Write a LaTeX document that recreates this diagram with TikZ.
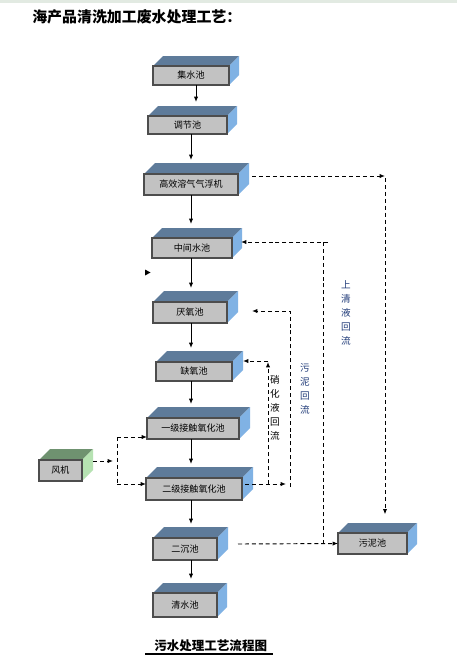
\documentclass[tikz,border=0pt]{standalone}
\usepackage{fontspec}
\newfontfamily\cjk{Noto Sans CJK SC}
\usetikzlibrary{calc,arrows.meta}
\definecolor{topc}{HTML}{5E7B9A}
\definecolor{sidec}{HTML}{80B2E4}
\definecolor{frontc}{HTML}{C2C2C2}
\definecolor{edgec}{HTML}{4D4D4D}
\definecolor{gtop}{HTML}{6F9270}
\definecolor{gside}{HTML}{B6E2B2}
\definecolor{lblue}{HTML}{1F3A78}
\definecolor{bandc}{HTML}{E2EAE2}
\newcommand\tbox[9]{%
 \fill[#8] (#2,#3) -- ({#2+#6},{#3-#6}) -- ({#4+#6},{#3-#6}) -- (#4,#3) -- cycle;
 \fill[#9] (#4,#3) -- ({#4+#6},{#3-#6}) -- ({#4+#6},{#5-#6}) -- (#4,#5) -- cycle;
 \node[frontbox, minimum width={(#4-#2)*0.75pt}, minimum height={(#5-#3)*0.75pt}, anchor=north west] (#1) at (#2,#3) {#7};
}
\tikzset{
 frontbox/.style={draw=edgec, fill=frontc, line width=0.9pt, inner sep=0pt, outer sep=0pt, font=\cjk\fontsize{6.8}{8}\selectfont},
 arr/.style={line width=0.75pt, -{Latex[length=4pt,width=3.2pt]}},
 dsh/.style={line width=0.7pt, dash pattern=on 3pt off 2.2pt},
 vlab/.style={font=\cjk\fontsize{7.2}{10.5}\selectfont, align=center, inner sep=0pt, text=lblue},
 ttl/.style={font=\cjk\bfseries\fontsize{11.2}{13}\selectfont, inner sep=0pt, anchor=west},
 sv/.style={shorten >=10.5pt}
}
\begin{document}
\begin{tikzpicture}[x=0.75pt,y=-0.75pt]
\useasboundingbox (0,0) rectangle (457,658);
\fill[white] (0,0) rectangle (457,658);
\fill[bandc] (0,0) rectangle (457,2.5);
% titles
\node[ttl] (t1) at (32,17) {海产品清洗加工废水处理工艺：};
\node[ttl, font=\cjk\bfseries\fontsize{9.4}{11}\selectfont] (t2) at (154,646) {污水处理工艺流程图};
\draw[line width=0.8pt] (145,654) -- (273,654);
% boxes
\tbox{jsc}{153}{66}{229}{85}{10}{集水池}{topc}{sidec}
\tbox{tjc}{148}{116}{227}{134}{10}{调节池}{topc}{sidec}
\tbox{gx}{144}{174}{238}{195}{11}{高效溶气气浮机}{topc}{sidec}
\tbox{zj}{152}{238}{232}{258}{10}{中间水池}{topc}{sidec}
\tbox{yy}{153}{302}{227}{323}{11}{厌氧池}{topc}{sidec}
\tbox{qy}{156}{362}{232}{381}{11}{缺氧池}{topc}{sidec}
\tbox{y1}{147}{418}{239}{439}{11}{一级接触氧化池}{topc}{sidec}
\tbox{y2}{146}{478}{242}{500}{11}{二级接触氧化池}{topc}{sidec}
\tbox{fj}{39}{460}{82}{481}{11}{风机}{gtop}{gside}
\tbox{ec}{153}{538}{217}{560}{11}{二沉池}{topc}{sidec}
\tbox{qs}{153}{593}{217}{617}{10}{清水池}{topc}{sidec}
\tbox{wn}{338}{533}{407}{554}{10}{污泥池}{topc}{sidec}
% main solid arrows
\coordinate (X1) at (196,0);
\coordinate (X) at (191,0);
\draw[arr,sv] (jsc.south -| X1) -- (tjc.north -| X1);
\draw[arr,sv] (tjc.south -| X) -- (gx.north -| X);
\draw[arr,sv] (gx.south -| X) -- (zj.north -| X);
\draw[arr,sv] (zj.south -| X) -- (yy.north -| X);
\draw[arr,sv] (yy.south -| X) -- (qy.north -| X);
\draw[arr,sv] (qy.south -| X) -- (y1.north -| X);
\draw[arr,sv] (y1.south -| X) -- (y2.north -| X);
\draw[arr,sv] (y2.south -| X) -- (ec.north -| X);
\draw[arr,sv] (ec.south -| X) -- (qs.north -| X);
% stray arrowhead
\fill (145,269.5) -- (150.5,272.5) -- (145,275.5) -- cycle;
% flotation sludge to sludge tank
\coordinate (c1) at (385,176);
\draw[dsh,-{Latex[length=4pt,width=3.2pt]}] ($(gx.east)+(14,-8.5)$) -- (c1);
\draw[dsh,-{Latex[length=4pt,width=3.2pt]},shorten >=14pt] ($(c1)+(0,2)$) -- (c1 |- wn.north);
% supernatant return
\coordinate (c2) at (323,242);
\coordinate (c3) at (323,544);
\draw[dsh] (c3) -- (c2);
\draw[dsh,-{Latex[length=4pt,width=3.2pt]}] ($(c2)+(5,0)$) -- ($(zj.east)+(9,-6)$);
% sec. clarifier to sludge tank
\draw[dsh,-{Latex[length=4pt,width=3.2pt]}] ($(ec.east)+(21,-5)$) -- (wn.west);
% sludge return
\coordinate (c4) at (290,487);
\coordinate (c5) at (290,311);
\draw[dsh,-{Latex[length=4pt,width=3.2pt]}] ($(y2.east)+(3,-5)$) -- (286,484);
\draw[dsh,-{Latex[length=4pt,width=3.2pt]}] (c4) -- (c5) -- ($(yy.east)+(25,-1.5)$);
% nitrate return
\coordinate (c6) at (268,484);
\coordinate (c7) at (268,361);
\draw[dsh,-{Latex[length=4pt,width=3.2pt]}] (c6) -- ($(c7)+(0,1)$);
\draw[dsh,-{Latex[length=4pt,width=3.2pt]}] (c7) -- ($(qy.east)+(11,-10.5)$);
% blower
\coordinate (c8) at (117,437);
\coordinate (c9) at (117,484);
\draw[dsh,-{Latex[length=4pt,width=3.2pt]}] ($(fj.east)+(11,-9.5)$) -- (113,461);
\draw[dsh] (c8) -- (c9);
\draw[dsh,-{Latex[length=4pt,width=3.2pt]}] (c8) -- (y1.west |- c8);
\draw[dsh,-{Latex[length=4pt,width=3.2pt]}] (c9) -- (y2.west |- c9);
% labels
\node[vlab] (l1) at (346,312.5) {上\\清\\液\\回\\流};
\node[vlab, text=black] (l2) at (275,408) {硝\\化\\液\\回\\流};
\node[vlab] (l3) at (305,388.5) {污\\泥\\回\\流};
\end{tikzpicture}
\end{document}
